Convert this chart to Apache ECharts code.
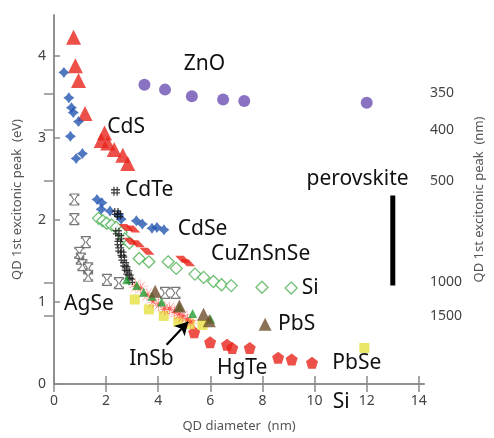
<!DOCTYPE html>
<html><head><meta charset="utf-8">
<script src="https://cdn.jsdelivr.net/npm/echarts@6/dist/echarts.min.js"></script>
<style>html,body{margin:0;padding:0;background:#fff}#c{width:494px;height:438px}</style>
</head><body><div id="c"></div>
<script>
// ---------- data (diameter nm, 1st excitonic peak eV) ----------
const znoX = [3.47, 4.26, 5.29, 6.49, 7.30, 12.0];
const znoY = [3.65, 3.59, 3.51, 3.47, 3.45, 3.43];
const cdsX = [0.75, 0.82, 0.94, 1.19, 1.94, 1.81, 2.06, 2.31, 2.64, 2.83];
const cdsY = [4.23, 3.88, 3.70, 3.30, 3.06, 2.97, 2.94, 2.86, 2.79, 2.69];
const cdseX = [0.38, 0.57, 0.67, 0.74, 0.94, 0.63, 0.85, 1.09, 1.65, 1.84, 1.81, 2.15, 2.48, 2.58, 3.16, 3.39, 3.76, 3.95, 4.22];
const cdseY = [3.80, 3.49, 3.37, 3.31, 3.20, 3.02, 2.75, 2.81, 2.25, 2.21, 2.13, 2.11, 2.06, 2.01, 1.99, 1.95, 1.90, 1.91, 1.88];
const cdteX = [2.36, 2.39, 2.49, 2.43, 2.52, 2.49, 2.52, 2.61, 2.64, 2.71, 2.77, 2.83, 2.89, 2.94];
const cdteY = [2.35, 2.09, 2.06, 1.85, 1.79, 1.72, 1.64, 1.59, 1.53, 1.46, 1.41, 1.36, 1.31, 1.26];
const siX = [1.71, 1.87, 2.02, 2.21, 2.39, 2.58, 2.71, 2.89, 3.27, 3.64, 4.38, 4.69, 5.41, 5.74, 6.12, 6.43, 6.80, 7.98, 9.10];
const siY = [2.02, 1.99, 1.96, 1.94, 1.91, 1.85, 1.77, 1.72, 1.53, 1.49, 1.49, 1.41, 1.34, 1.30, 1.25, 1.21, 1.20, 1.18, 1.17];
const cztsX = [2.77, 3.02, 2.94, 3.20, 3.57, 4.94, 5.13];
const cztsY = [1.91, 1.89, 1.74, 1.71, 1.62, 1.52, 1.48];
const agseX = [0.78, 0.78, 1.22, 0.97, 1.03, 1.09, 1.31, 1.31, 2.03, 2.49, 4.26, 4.66];
const agseY = [2.25, 2.01, 1.73, 1.60, 1.53, 1.45, 1.41, 1.32, 1.27, 1.23, 1.11, 1.11];
const hgteX = [5.38, 5.99, 6.64, 6.84, 7.51, 8.60, 9.12, 9.90];
const hgteY = [0.63, 0.51, 0.48, 0.44, 0.44, 0.32, 0.30, 0.26];
const pbseX = [3.10, 3.64, 4.21, 4.77, 5.21, 5.70, 11.91];
const pbseY = [1.03, 0.91, 0.83, 0.76, 0.73, 0.72, 0.44];
const insbX = [3.14, 3.31, 3.57, 3.80, 4.02, 4.24, 4.43, 4.62, 4.80, 4.95, 5.12, 5.25];
const insbY = [1.20, 1.17, 1.09, 1.01, 0.97, 0.92, 0.92, 0.88, 0.85, 0.83, 0.79, 0.76];
const greenTriX = [2.79, 3.18, 3.44, 3.76, 4.13, 4.81, 5.32, 6.01];
const greenTriY = [1.27, 1.20, 1.12, 1.07, 1.00, 0.94, 0.86, 0.79];
const pbsX = [3.88, 4.81, 5.74, 5.96, 8.10];
const pbsY = [1.13, 0.95, 0.85, 0.77, 0.73];
const perovskiteX = [13, 13];
const perovskiteY = [1.2, 2.3];

const xTicks = [0, 2, 4, 6, 8, 10, 12, 14];
const yTicks = [0, 1, 2, 3, 4];
const nmTicks = [350, 400, 500, 1000, 1500];

// text annotations: [text, x (nm), y (eV)]
const annotations = [
  ['ZnO', 5.77, 3.90], ['CdS', 2.77, 3.14], ['CdTe', 3.65, 2.37], ['CdSe', 5.70, 1.89],
  ['CuZnSnSe', 7.93, 1.59], ['Si', 9.83, 1.17], ['AgSe', 1.34, 0.97], ['PbS', 9.31, 0.73],
  ['InSb', 3.74, 0.31], ['HgTe', 7.22, 0.19], ['PbSe', 11.62, 0.25], ['perovskite', 11.65, 2.50],
  ['Si', 11.02, -0.22]
];
const arrowFrom = [4.32, 0.48];
const arrowTo = [5.15, 0.76];

// ---------- build ----------
const zip = (xs, ys) => xs.map((x, i) => [x, ys[i]]);
function starPath(n, r1, r2) {
  let d = '';
  for (let i = 0; i < n * 2; i++) {
    const r = i % 2 ? r2 : r1, a = Math.PI * i / n - Math.PI / 2;
    d += (i ? 'L' : 'M') + (r * Math.cos(a)).toFixed(2) + ',' + (r * Math.sin(a)).toFixed(2);
  }
  return 'path://' + d + 'Z';
}
const RED = '#e8241c';
const axisGray = '#8a8a8a';
const font = '"Noto Sans", "DejaVu Sans", sans-serif';

const chart = echarts.init(document.getElementById('c'), null, { renderer: 'canvas' });
const sc = (name, xs, ys, symbol, size, style, z) => ({
  name, type: 'scatter', data: zip(xs, ys), symbol, symbolSize: size,
  itemStyle: style, z: z || 2, silent: true, animation: false
});

const option = {
  animation: false,
  textStyle: { fontFamily: font },
  grid: { left: 54, right: 59, top: 15, bottom: 49 },
  xAxis: [
    {
      type: 'value', min: 0, max: 14.2, position: 'bottom',
      name: 'QD diameter  (nm)', nameLocation: 'middle', nameGap: 36,
      nameTextStyle: { fontSize: 13, color: '#555', fontFamily: font },
      axisLine: { show: true, lineStyle: { color: axisGray, width: 1.5 } },
      axisTick: { show: true, inside: true, length: 8, customValues: xTicks, lineStyle: { color: axisGray, width: 1.5 } },
      axisLabel: { customValues: xTicks, fontSize: 14, color: '#444', margin: 10, fontFamily: font },
      splitLine: { show: false }
    },
    {
      type: 'value', min: 0, max: 14.2, position: 'top',
      axisLine: { show: true, lineStyle: { color: axisGray, width: 1.5 } },
      axisTick: { show: true, inside: true, length: 8, customValues: xTicks, lineStyle: { color: axisGray, width: 1.5 } },
      axisLabel: { show: false }, splitLine: { show: false }
    }
  ],
  yAxis: [
    {
      type: 'value', min: 0, max: 4.5, position: 'left',
      name: 'QD 1st excitonic peak  (eV)', nameLocation: 'middle', nameGap: 30,
      nameTextStyle: { fontSize: 13, color: '#555', fontFamily: font },
      axisLine: { show: true, lineStyle: { color: axisGray, width: 1.5 } },
      axisTick: { show: true, inside: true, length: 6, customValues: yTicks, lineStyle: { color: axisGray, width: 1.5 } },
      axisLabel: { customValues: yTicks, fontSize: 14, color: '#444', margin: 8, fontFamily: font },
      splitLine: { show: false }
    },
    {
      type: 'value', min: 0, max: 4.5, position: 'right',
      name: 'QD 1st excitonic peak  (nm)', nameLocation: 'middle', nameGap: 46, nameRotate: 90,
      nameTextStyle: { fontSize: 13, color: '#555', fontFamily: font },
      axisLine: { show: true, lineStyle: { color: axisGray, width: 1.5 } },
      axisTick: { show: true, inside: true, length: 10, customValues: nmTicks.map(n => 1240 / n), lineStyle: { color: axisGray, width: 1.5 } },
      axisLabel: {
        customValues: nmTicks.map(n => 1240 / n), fontSize: 14, color: '#444', margin: 6, fontFamily: font,
        formatter: v => String(nmTicks.reduce((b, n) => Math.abs(1240 / n - v) < Math.abs(1240 / b - v) ? n : b, nmTicks[0]))
      },
      splitLine: { show: false }
    }
  ],
  series: [
    sc('ZnO', znoX, znoY, 'circle', 12, { color: '#6b4fb3' }),
    sc('CdS', cdsX, cdsY, 'triangle', 15, { color: RED }),
    sc('CdSe', cdseX, cdseY, 'path://M0,-10L4.2,-4.2L10,0L4.2,4.2L0,10L-4.2,4.2L-10,0L-4.2,-4.2Z', 11, { color: '#2456b2' }),
    sc('Si', siX, siY, 'diamond', 12, { color: '#fff', borderColor: '#4cb050', borderWidth: 1.3 }, 3),
    sc('CuZnSnSe', cztsX, cztsY, 'path://M0,0L9,0L16,7L7,7Z', [15, 7], { color: RED }, 3),
    sc('CdTe', cdteX, cdteY, 'path://M3.6,0h2v14h-2z M8.6,0h2v14h-2z M0,3.6h14v2h-14z M0,8.6h14v2h-14z', 9, { color: '#111' }, 4),
    sc('AgSe', agseX, agseY, 'path://M0,0H10V1.6H8.6L5.8,6L8.6,10.4H10V12H0V10.4H1.4L4.2,6L1.4,1.6H0Z', [9, 11], { color: '#fff', borderColor: '#555', borderWidth: 1.1 }),
    sc('HgTe', hgteX, hgteY, 'path://M0,-10L9.5,-3.1L5.9,8.1L-5.9,8.1L-9.5,-3.1Z', 12, { color: RED }),
    sc('PbSe', pbseX, pbseY, 'rect', 10, { color: '#e6e040' }, 2),
    sc('InSb', insbX, insbY, starPath(10, 10, 1.2), 18, { color: '#ff3b2f', opacity: 0.85 }, 3),
    sc('greenTri', greenTriX, greenTriY, 'triangle', 9, { color: '#23a035' }, 4),
    sc('PbS', pbsX, pbsY, 'triangle', 13, { color: '#6e4e2a' }, 4),
    {
      name: 'perovskite', type: 'line', data: zip(perovskiteX, perovskiteY), symbol: 'none',
      lineStyle: { color: '#000', width: 5 }, silent: true, z: 2,
      markLine: {
        silent: true, symbol: ['none', 'arrow'], symbolSize: [11, 13],
        lineStyle: { color: '#000', width: 2.2, type: 'solid' }, label: { show: false },
        data: [[{ coord: arrowFrom }, { coord: arrowTo }]]
      }
    }
  ]
};
chart.setOption(option);

const graphics = annotations.map(([t, x, y]) => {
  const p = chart.convertToPixel({ xAxisIndex: 0, yAxisIndex: 0 }, [x, y]);
  return {
    type: 'text', x: p[0], y: p[1], silent: true, z: 10,
    style: { text: t, textAlign: 'center', textVerticalAlign: 'middle', font: '21px ' + font, fill: '#111' }
  };
});
chart.setOption({ graphic: graphics });
</script></body></html>
